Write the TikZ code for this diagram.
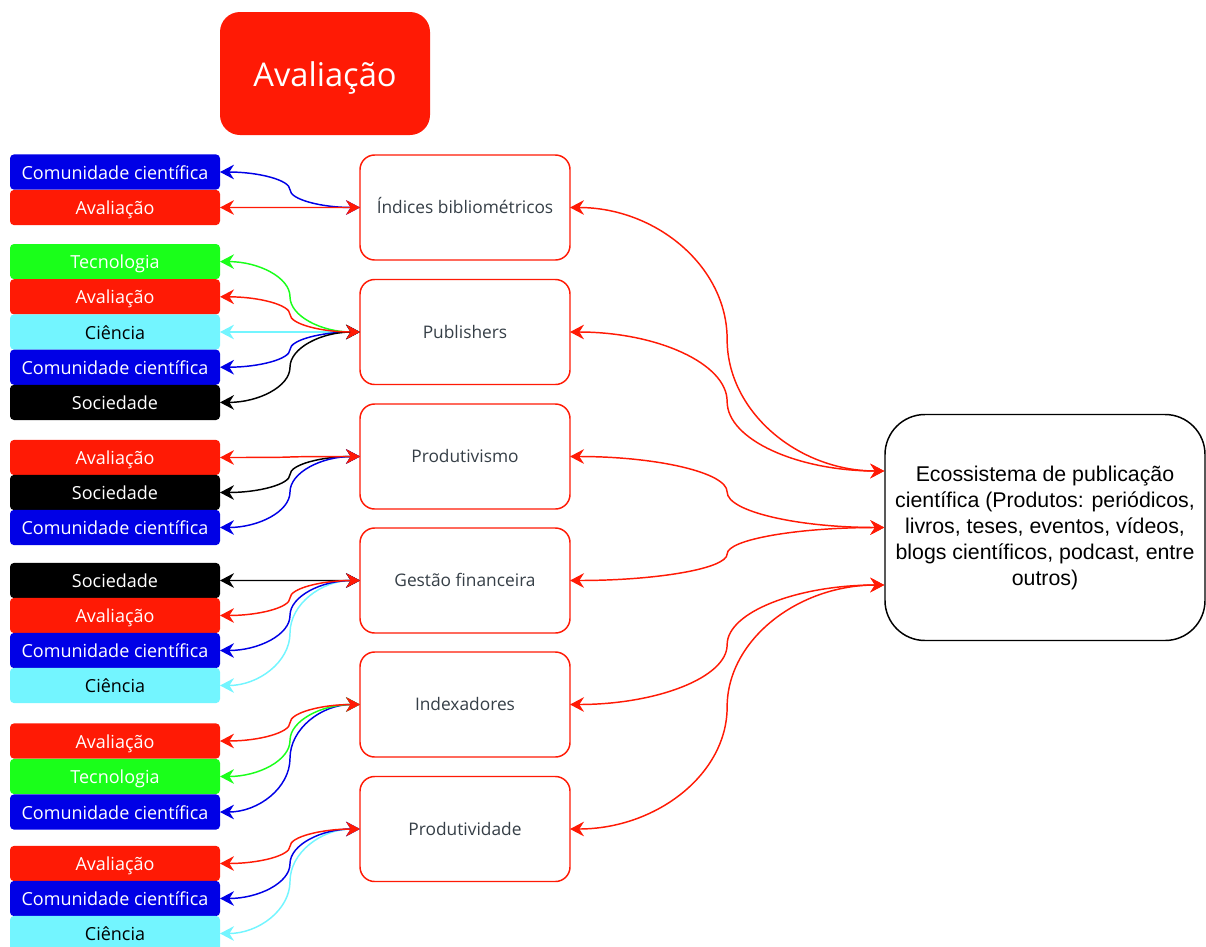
\documentclass[tikz,border=0pt]{standalone}
\usepackage{fontspec}
\newfontfamily\osans{Open Sans}
\newfontfamily\arialf{Liberation Sans}
\usetikzlibrary{calc,arrows.meta}
\definecolor{cred}{HTML}{FF1A05}
\definecolor{cgreen}{HTML}{1AFF1A}
\definecolor{ccyan}{HTML}{73F5FF}
\definecolor{cblue}{HTML}{0000E6}
\definecolor{ctext}{HTML}{363F47}
\tikzset{
 lbl/.style={rounded corners=3pt, minimum width=157.5pt, minimum height=26.4pt, inner sep=0pt, outer sep=0pt, text height=11pt, text depth=0.5pt, font=\osans\fontsize{13.5}{16}\selectfont, text=white},
 lred/.style={lbl, fill=cred},
 lgreen/.style={lbl, fill=cgreen},
 lcyan/.style={lbl, fill=ccyan, text=black},
 lblue/.style={lbl, fill=cblue},
 lblack/.style={lbl, fill=black},
 midbox/.style={draw=cred, line width=1.1pt, fill=white, rounded corners=11pt, minimum width=157.5pt, minimum height=78.75pt, inner sep=0pt, outer sep=0pt, text height=9.7pt, text depth=0.7pt, font=\osans\fontsize{13}{16}\selectfont, text=ctext},
 conn/.style={line width=1.1pt, arrows={Stealth[length=10.5pt,width=11pt,inset=3.5pt]-Stealth[length=10.5pt,width=11pt,inset=3.5pt]}},
}
\newcommand\cnx[3]{%
 \path (#2) coordinate (pA) (#3) coordinate (pB);
 \path ($(pA)!.5!(pB)$) coordinate (pM);
 \path (pM |- pA) coordinate (pC) (pM |- pB) coordinate (pD);
 \draw[conn,#1] (pA) .. controls ($(pA)!.55!(pC)$) and ($(pM)!.55!(pC)$) .. (pM) .. controls ($(pM)!.55!(pD)$) and ($(pB)!.55!(pD)$) .. (pB);}
\begin{document}
\begin{tikzpicture}[x=0.75pt,y=-0.75pt]
\useasboundingbox (0,0) rectangle (1206,946);
% title
\node[fill=cred, rounded corners=15pt, minimum width=157.5pt, minimum height=92.25pt, inner sep=0pt, text height=20pt, text depth=1pt, font=\osans\fontsize{24.5}{29}\selectfont, text=white] (title) at (325,73.5) {Avaliação};
% middle boxes
\node[midbox] (ib) at (465,207.5) {Índices bibliométricos};
\node[midbox] (pu) at (465,332) {Publishers};
\node[midbox] (pv) at (465,456.5) {Produtivismo};
\node[midbox] (gf) at (465,580.5) {Gestão financeira};
\node[midbox] (ix) at (465,704.5) {Indexadores};
\node[midbox] (pd) at (465,829) {Produtividade};
% right box
\node[draw=black, line width=1.1pt, fill=white, rounded corners=30pt, minimum width=240pt, minimum height=169.5pt, inner sep=0pt, align=center, font=\arialf\fontsize{16}{19.5}\selectfont] (eco) at (1045,527.5) {Ecossistema de publicação\\científica (Produtos: periódicos,\\livros, teses, eventos, vídeos,\\blogs científicos, podcast, entre\\outros)};
\coordinate (e1) at ($(eco.west)+(0,-56.5)$);
\coordinate (e2) at (eco.west);
\coordinate (e3) at ($(eco.west)+(0,57.5)$);
% left labels group 1
\node[lblue] (a1) at (115,172) {Comunidade científica};
\node[lred] (a2) at (115,207.5) {Avaliação};
% group 2
\node[lgreen] (b1) at (115,261.6) {Tecnologia};
\node[lred] (b2) at (115,296.8) {Avaliação};
\node[lcyan] (b3) at (115,332) {Ciência};
\node[lblue] (b4) at (115,367.2) {Comunidade científica};
\node[lblack] (b5) at (115,402.4) {Sociedade};
% group 3
\node[lred] (c1) at (115,457.5) {Avaliação};
\node[lblack] (c2) at (115,492.5) {Sociedade};
\node[lblue] (c3) at (115,527.5) {Comunidade científica};
% group 4
\node[lblack] (d1) at (115,580.5) {Sociedade};
\node[lred] (d2) at (115,615.5) {Avaliação};
\node[lblue] (d3) at (115,650.5) {Comunidade científica};
\node[lcyan] (d4) at (115,685.5) {Ciência};
% group 5
\node[lred] (f1) at (115,741) {Avaliação};
\node[lgreen] (f2) at (115,776.5) {Tecnologia};
\node[lblue] (f3) at (115,812) {Comunidade científica};
% group 6
\node[lred] (g1) at (115,863.5) {Avaliação};
\node[lblue] (g2) at (115,898.5) {Comunidade científica};
\node[lcyan] (g3) at (115,933.5) {Ciência};
% left connectors
\cnx{cblue}{a1.east}{ib.west}
\cnx{cred}{a2.east}{ib.west}
\cnx{cgreen}{b1.east}{pu.west}
\cnx{ccyan}{b3.east}{pu.west}
\cnx{cblue}{b4.east}{pu.west}
\cnx{black}{b5.east}{pu.west}
\cnx{cred}{b2.east}{pu.west}
\cnx{black}{c2.east}{pv.west}
\cnx{cblue}{c3.east}{pv.west}
\cnx{cred}{c1.east}{pv.west}
\cnx{ccyan}{d4.east}{gf.west}
\cnx{cblue}{d3.east}{gf.west}
\cnx{black}{d1.east}{gf.west}
\cnx{cred}{d2.east}{gf.west}
\cnx{cblue}{f3.east}{ix.west}
\cnx{cgreen}{f2.east}{ix.west}
\cnx{cred}{f1.east}{ix.west}
\cnx{ccyan}{g3.east}{pd.west}
\cnx{cblue}{g2.east}{pd.west}
\cnx{cred}{g1.east}{pd.west}
% right connectors
\cnx{cred}{ib.east}{e1}
\cnx{cred}{pu.east}{e1}
\cnx{cred}{pv.east}{e2}
\cnx{cred}{gf.east}{e2}
\cnx{cred}{ix.east}{e3}
\cnx{cred}{pd.east}{e3}
\end{tikzpicture}
\end{document}
